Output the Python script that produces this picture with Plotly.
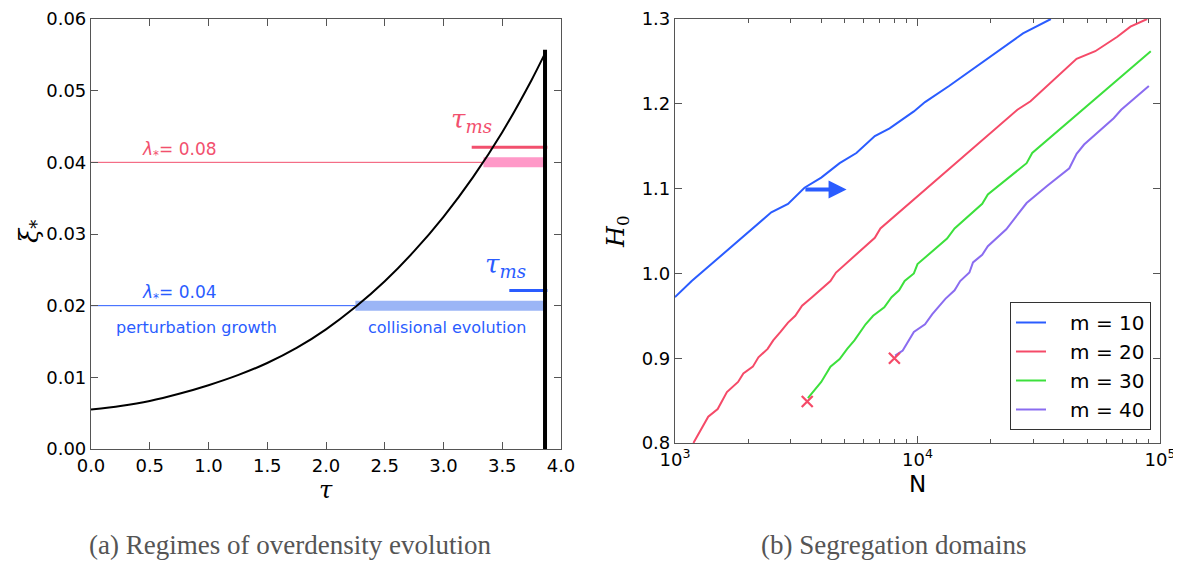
import math
import plotly.graph_objects as go

# ---------------- Panel (a) data ----------------
tau = [0.0, 0.25, 0.5, 0.75, 1.0, 1.25, 1.5, 1.75, 2.0, 2.25, 2.5, 2.75, 3.0, 3.25, 3.5, 3.75, 3.864]
xi = [0.0055, 0.0060, 0.0067, 0.0077, 0.0089, 0.0103, 0.0120, 0.0141, 0.0167, 0.0198,
      0.0234, 0.0276, 0.0324, 0.0379, 0.0442, 0.0515, 0.0552]
tau_end = 3.864          # thick black vertical line
xi_end = 0.0557
lam_levels = [0.04, 0.02]           # xi levels for lambda = 0.08, 0.04
lam_cross = [3.34, 2.25]            # tau where curve meets level
tms_levels = [0.0421, 0.0221]       # tau_ms marker heights
tms_start = [3.24, 3.56]
lam_labels = ["0.08", "0.04"]

# ---------------- Panel (b) data ----------------
N10 = [1000, 1172, 2495, 2924, 3420, 4009, 4775, 5598, 6668, 7674, 9660, 10740, 13490, 16940, 21280, 27230, 35480]
H10 = [0.972, 0.991, 1.072, 1.082, 1.101, 1.113, 1.130, 1.142, 1.162, 1.171, 1.191, 1.202, 1.221, 1.241, 1.262, 1.283, 1.300]
N20 = [1191, 1371, 1500, 1637, 1820, 1914, 2094, 2208, 2410, 2541, 2723, 2924, 3133, 3342, 3673, 4375, 4613,
       6668, 7031, 25820, 29240, 45290, 54080, 66680, 75510, 88510]
H20 = [0.800, 0.831, 0.840, 0.860, 0.872, 0.882, 0.890, 0.901, 0.911, 0.921, 0.931, 0.942, 0.950, 0.962, 0.972, 0.991, 1.001,
       1.042, 1.053, 1.193, 1.203, 1.253, 1.262, 1.279, 1.291, 1.300]
N30 = [3532, 4009, 4375, 4775, 5129, 5495, 6109, 6561, 7295, 7816, 8395, 8851, 9660, 10000, 13240, 14220, 18490, 19500,
       28180, 29720, 91620]
H30 = [0.853, 0.872, 0.890, 0.899, 0.911, 0.921, 0.940, 0.950, 0.960, 0.972, 0.980, 0.991, 1.000, 1.011, 1.041, 1.053,
       1.082, 1.093, 1.130, 1.142, 1.262]
N40 = [8091, 8690, 9660, 10740, 11510, 13030, 14220, 15000, 16370, 16940, 18490, 19500, 23230, 24950, 28180, 34200,
       42270, 45290, 48640, 64420, 69180, 89950]
H40 = [0.903, 0.909, 0.931, 0.940, 0.952, 0.970, 0.980, 0.991, 1.001, 1.013, 1.022, 1.032, 1.052, 1.063, 1.083, 1.103,
       1.124, 1.141, 1.152, 1.183, 1.193, 1.221]
cross_N = [3510, 8030]
cross_H = [0.849, 0.900]
arrow_N = [3400, 5100]
arrow_H = 1.099
series_names = ["m = 10", "m = 20", "m = 30", "m = 40"]

# ---------------- Styles ----------------
PINK = "#f2506e"
PINK_BAND = "#ff99c8"
BLUE = "#2a5cff"
BLUE_BAND = "#9bb5f6"
C_M = ["#2a5cff", "#f54a68", "#3ce03c", "#8a6cf0"]
AX = "#555555"
FONT = "DejaVu Sans"

fig = go.Figure()

# Panel (a)
lam_colors = [PINK, BLUE]
band_colors = [PINK_BAND, BLUE_BAND]
for lvl, xc, tl, ts, col, bcol in zip(lam_levels, lam_cross, tms_levels, tms_start, lam_colors, band_colors):
    fig.add_trace(go.Scatter(x=[0, xc], y=[lvl, lvl], mode="lines", line=dict(color=col, width=1),
                             xaxis="x", yaxis="y", showlegend=False, hoverinfo="skip"))
    fig.add_trace(go.Scatter(x=[xc, tau_end], y=[lvl, lvl], mode="lines", line=dict(color=bcol, width=10),
                             xaxis="x", yaxis="y", showlegend=False, hoverinfo="skip"))
    fig.add_trace(go.Scatter(x=[ts, tau_end + 0.02], y=[tl, tl], mode="lines", line=dict(color=col, width=3),
                             xaxis="x", yaxis="y", showlegend=False, hoverinfo="skip"))

fig.add_trace(go.Scatter(x=tau, y=xi, mode="lines", line=dict(color="black", width=2, shape="spline", smoothing=0.8),
                         xaxis="x", yaxis="y", showlegend=False))
fig.add_trace(go.Scatter(x=[tau_end, tau_end], y=[0, xi_end], mode="lines", line=dict(color="black", width=4),
                         xaxis="x", yaxis="y", showlegend=False))

# Panel (b)
NBSP = "\u00a0\u00a0\u00a0"
for Nv, Hv, nm, c in zip([N10, N20, N30, N40], [H10, H20, H30, H40], series_names, C_M):
    fig.add_trace(go.Scatter(x=Nv, y=Hv, mode="lines", name=NBSP + nm, line=dict(color=c, width=2),
                             xaxis="x2", yaxis="y2"))
fig.add_trace(go.Scatter(x=cross_N, y=cross_H, mode="markers", showlegend=False,
                         marker=dict(symbol="x-thin", size=11, line=dict(color=C_M[1], width=2.2), color=C_M[1]),
                         xaxis="x2", yaxis="y2"))

annotations = []
# arrow
annotations.append(dict(x=math.log10(arrow_N[1]), y=arrow_H, ax=math.log10(arrow_N[0]), ay=arrow_H,
                        xref="x2", yref="y2", axref="x2", ayref="y2", text="", showarrow=True,
                        arrowhead=2, arrowsize=0.9, arrowwidth=4, arrowcolor=BLUE))


def label(**kw):
    kw.setdefault("showarrow", False)
    kw.setdefault("xanchor", "center")
    kw.setdefault("yanchor", "middle")
    annotations.append(kw)


# panel (a) texts
for lvl, lab, col in zip(lam_levels, lam_labels, lam_colors):
    label(x=0.75, y=lvl + 0.0017, xref="x", yref="y",
          text="<i>λ</i><sub>*</sub>= " + lab, font=dict(family=FONT, size=17, color=col))
label(x=3.24, y=0.0458, xref="x", yref="y",
      text="<i>τ<sub>ms</sub></i>", font=dict(family="DejaVu Serif", size=26, color=PINK))
label(x=3.53, y=0.0256, xref="x", yref="y",
      text="<i>τ<sub>ms</sub></i>", font=dict(family="DejaVu Serif", size=26, color=BLUE))
label(x=0.90, y=0.0170, xref="x", yref="y",
      text="perturbation growth", font=dict(family=FONT, size=16, color=BLUE))
label(x=3.03, y=0.0170, xref="x", yref="y",
      text="collisional evolution", font=dict(family=FONT, size=16, color=BLUE))

W, Hh = 1181, 565
OFF = 8  # page body offset


def px(x):
    return (x - OFF) / W


def py(y):
    return 1 - (y - OFF) / Hh


# axis titles
label(x=px(30), y=py(232), xref="paper", yref="paper", textangle=-90,
      text="<i>ξ</i><sub>*</sub>", font=dict(family="DejaVu Serif", size=26, color="black"))
label(x=px(326), y=py(490), xref="paper", yref="paper",
      text="<i>τ</i>", font=dict(family="DejaVu Serif", size=24, color="black"))
label(x=px(917), y=py(484), xref="paper", yref="paper",
      text="N", font=dict(family=FONT, size=23, color="black"))
label(x=px(617), y=py(232), xref="paper", yref="paper", textangle=-90,
      text="<i>H</i><sub>0</sub>", font=dict(family="DejaVu Serif", size=24, color="black"))
# captions
label(x=px(290), y=py(545), xref="paper", yref="paper",
      text="(a) Regimes of overdensity evolution",
      font=dict(family="Liberation Serif", size=27, color="#555555"))
label(x=px(893), y=py(545), xref="paper", yref="paper",
      text="(b) Segregation domains",
      font=dict(family="Liberation Serif", size=27, color="#555555"))

common = dict(showline=True, linecolor=AX, linewidth=1.2, mirror="ticks", ticks="inside", ticklen=7,
              tickcolor=AX, showgrid=False, zeroline=False, automargin=False,
              tickfont=dict(family=FONT, size=18, color="black"))

fig.update_layout(
    width=W, height=Hh, margin=dict(l=0, r=0, t=0, b=0, pad=0), autosize=False,
    paper_bgcolor="white", plot_bgcolor="white",
    xaxis=dict(domain=[px(91), px(561)], range=[0, 4], dtick=0.5, tickformat=".1f", anchor="y", **common),
    yaxis=dict(domain=[py(449), py(19)], range=[0, 0.06], dtick=0.01, tickformat=".2f", anchor="x", **common),
    xaxis2=dict(domain=[px(675), px(1160)], type="log", range=[3, 5], anchor="y2",
                tickvals=[1e3, 1e4, 1e5], ticktext=["10<sup>3</sup>", "10<sup>4</sup>", "10<sup>5</sup>"],
                minor=dict(ticks="inside", ticklen=4, tickcolor=AX,
                           tickvals=[k * 10 ** e for e in (3, 4) for k in range(2, 10)]),
                **common),
    yaxis2=dict(domain=[py(443), py(19)], range=[0.8, 1.3], dtick=0.1, tickformat=".1f", anchor="x2", **common),
    legend=dict(x=px(1151), xanchor="right", y=py(302), yanchor="top", bgcolor="white",
                bordercolor="#333333", borderwidth=1, font=dict(family=FONT, size=20, color="black"),
                itemwidth=30),
    annotations=annotations,
)

fig.write_html("out.html")
